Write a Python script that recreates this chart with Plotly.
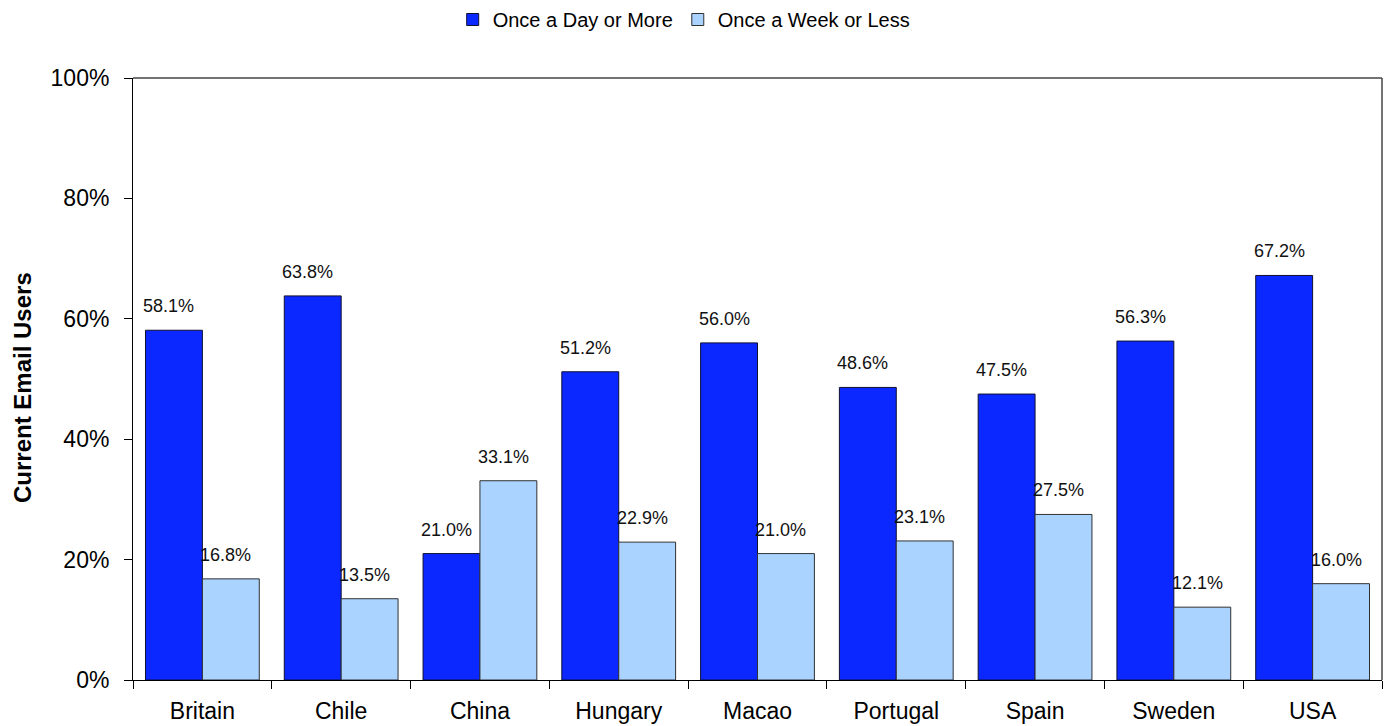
import plotly.graph_objects as go

# Share of current email users by frequency of checking email
countries = ["Britain", "Chile", "China", "Hungary", "Macao",
             "Portugal", "Spain", "Sweden", "USA"]
daily_or_more = [58.1, 63.8, 21.0, 51.2, 56.0, 48.6, 47.5, 56.3, 67.2]
weekly_or_less = [16.8, 13.5, 33.1, 22.9, 21.0, 23.1, 27.5, 12.1, 16.0]
y_ticks = [0, 20, 40, 60, 80, 100]
y_tick_labels = ["0%", "20%", "40%", "60%", "80%", "100%"]

FONT = "Liberation Sans, Arial, sans-serif"
NARROW = "Liberation Sans Narrow, Arial Narrow, Liberation Sans, Arial, sans-serif"

W, H = 1385, 726
ML, MR, MT, MB = 133, 3, 78, 46
plot_w = W - ML - MR
bargap = 0.18
bar_w = plot_w / len(countries) * (1 - bargap) / 2

fig = go.Figure()
fig.add_bar(name="Once a Day or More", x=countries, y=daily_or_more,
            marker=dict(color="#0A28FF", line=dict(color="#101030", width=1)))
fig.add_bar(name="Once a Week or Less", x=countries, y=weekly_or_less,
            marker=dict(color="#AAD4FF", line=dict(color="#303030", width=1)))

# value labels above each bar
for series, offset in ((daily_or_more, -bar_w / 2 - 5), (weekly_or_less, bar_w / 2 - 5)):
    for c, v in zip(countries, series):
        fig.add_annotation(x=c, y=v, text=f"{v:.1f}%", showarrow=False,
                           xshift=offset, yshift=24, yanchor="middle",
                           font=dict(family=NARROW, size=18, color="#111"))

# y-axis title
fig.add_annotation(xref="paper", yref="paper", x=(22 - ML) / plot_w, y=0.485,
                   text="<b>Current Email Users</b>", textangle=-90,
                   showarrow=False, xanchor="center", yanchor="middle",
                   font=dict(family=FONT, size=24, color="#000"))

# plot frame on top and right
fig.add_shape(type="line", xref="paper", yref="paper", x0=0, x1=1, y0=1, y1=1,
              line=dict(color="#444", width=1.5))
fig.add_shape(type="line", xref="paper", yref="paper", x0=1, x1=1, y0=0, y1=1,
              line=dict(color="#444", width=1.5))

fig.update_layout(
    width=W, height=H,
    margin=dict(l=ML, r=MR, t=MT, b=MB),
    paper_bgcolor="white", plot_bgcolor="white",
    barmode="group", bargap=bargap, bargroupgap=0,
    font=dict(family=FONT, color="#000"),
    showlegend=True,
    legend=dict(orientation="h", xref="container", yref="container",
                x=0.494, xanchor="center", y=1.0, yanchor="top",
                font=dict(family=FONT, size=20), traceorder="normal"),
    xaxis=dict(showline=True, linecolor="#000", linewidth=1,
               ticks="outside", tickson="boundaries", ticklen=8,
               tickcolor="#000", tickfont=dict(size=23, family=FONT),
               showgrid=False, ticklabelstandoff=10),
    yaxis=dict(range=[0, 100], tickvals=y_ticks, ticktext=y_tick_labels,
               showline=True, linecolor="#000", linewidth=1,
               ticks="outside", ticklen=8, tickcolor="#000",
               tickfont=dict(size=23, family=FONT), showgrid=False,
               zeroline=False, ticklabelstandoff=10),
)

fig.write_html("out.html")
